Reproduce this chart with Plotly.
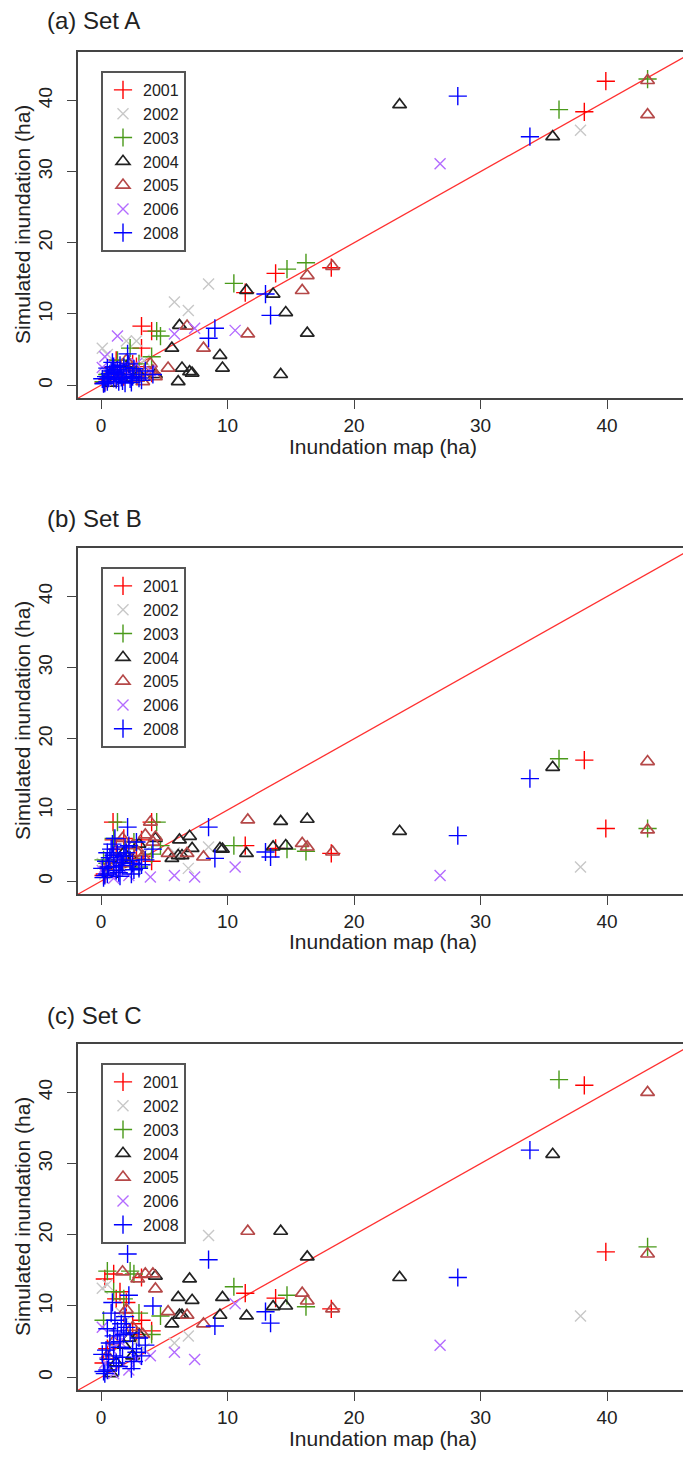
import plotly.graph_objects as go

W, H = 683, 1460

YEARS = ["2001", "2002", "2003", "2004", "2005", "2006", "2008"]
COLORS = ["#FF0000", "#C8C8C8", "#4A9A1A", "#222222", "#B54848", "#B36BFF", "#0000FF"]
SYMBOLS = ["cross-thin", "x-thin", "cross-thin", "triangle-up-open",
           "triangle-up-open", "x-thin", "cross-thin"]
PANEL_TITLES = ["(a) Set A", "(b) Set B", "(c) Set C"]
TICKS = [0, 10, 20, 30, 40]
ONE_TO_ONE = [-5, 50]

# ---- inundation map (x) per year, simulated (y) per set ----
x_2001 = [39.9, 38.2, 13.8, 11.4, 18.2, 3.2, 4.0, 3.2, 4.0, 0.95, 0.3, 1.5, 2.0, 2.5, 1.0, 0.5, 1.8, 2.8, 0.2, 1.2]
a_2001 = [42.7, 38.4, 15.7, 13.0, 16.5, 8.3, 7.6, 5.2, 1.7, 2.5, 0.5, 1.8, 2.2, 3.0, 1.0, 0.8, 1.2, 2.6, 0.3, 3.5]
b_2001 = [7.4, 17.0, 4.6, 5.0, 3.9, 5.8, 8.3, 3.5, 2.8, 8.3, 1.0, 3.0, 4.0, 2.5, 5.8, 2.0, 6.0, 3.2, 0.8, 4.5]
c_2001 = [17.6, 41.0, 11.1, 11.8, 9.6, 14.0, 20.5, 8.0, 6.5, 20.5, 13.8, 12.0, 10.5, 7.5, 14.5, 4.0, 9.0, 6.0, 2.0, 11.0]

x_2002 = [37.9, 8.5, 5.8, 6.9, 0.1, 2.0, 2.8, 0.5, 1.2, 0.3, 1.6, 3.4]
a_2002 = [35.8, 14.2, 11.7, 10.5, 5.2, 6.2, 6.2, 4.3, 3.0, 1.0, 2.0, 3.5]
b_2002 = [2.0, 4.8, 4.0, 1.8, 2.5, 3.0, 2.0, 1.5, 3.0, 1.0, 2.2, 4.0]
c_2002 = [8.6, 19.9, 4.8, 5.8, 12.5, 8.0, 5.0, 13.0, 6.0, 2.0, 9.0, 4.0]

x_2003 = [43.2, 36.2, 16.2, 14.7, 10.5, 4.4, 4.7, 2.3, 1.3, 0.5, 0.2, 1.8, 2.6, 4.0, 1.0, 3.0]
a_2003 = [43.0, 38.7, 17.2, 16.3, 14.3, 7.6, 6.9, 5.2, 3.5, 1.5, 0.5, 2.5, 1.5, 4.0, 2.0, 3.0]
b_2003 = [7.4, 17.2, 4.2, 4.5, 5.0, 8.3, 5.0, 3.0, 8.3, 2.5, 3.0, 4.0, 5.5, 3.8, 6.0, 2.0]
c_2003 = [18.3, 41.8, 9.9, 11.5, 12.7, 20.7, 8.6, 14.9, 20.5, 14.9, 8.0, 11.0, 14.5, 6.0, 12.0, 9.0]

x_2004 = [35.7, 23.6, 11.5, 13.6, 14.6, 16.3, 14.2, 9.4, 9.6, 7.2, 7.0, 6.1, 6.2, 5.6, 6.4, 3.0, 2.5, 1.8, 4.3, 1.2, 2.2, 0.8]
a_2004 = [34.9, 39.4, 13.3, 12.8, 10.2, 7.3, 1.5, 4.2, 2.4, 1.7, 1.9, 0.5, 8.4, 5.2, 2.4, 1.5, 1.0, 2.0, 1.5, 0.8, 3.0, 0.3]
b_2004 = [16.0, 7.0, 3.9, 4.8, 5.0, 8.7, 8.4, 4.6, 4.5, 4.6, 6.3, 3.6, 5.8, 3.2, 3.6, 5.2, 3.0, 4.0, 6.0, 2.0, 2.5, 1.0]
c_2004 = [31.3, 14.0, 8.6, 9.9, 10.0, 16.9, 20.5, 8.7, 11.2, 10.8, 13.8, 11.2, 8.7, 7.5, 8.7, 6.0, 3.0, 4.5, 14.2, 2.0, 5.5, 0.5]

x_2005 = [43.2, 43.2, 18.3, 16.3, 15.9, 11.6, 8.1, 6.8, 5.3, 4.1, 3.9, 2.5, 1.7, 2.9, 3.5, 1.0, 2.0, 0.5, 4.3, 3.3]
a_2005 = [42.8, 38.0, 16.7, 15.4, 13.3, 7.2, 5.2, 8.3, 2.4, 2.0, 3.0, 2.5, 1.5, 1.0, 1.8, 2.0, 3.5, 0.8, 1.2, 0.5]
b_2005 = [16.8, 7.2, 4.1, 4.8, 5.3, 8.6, 3.4, 3.9, 3.9, 5.5, 8.3, 5.0, 6.0, 4.0, 6.5, 3.0, 2.5, 2.0, 6.2, 3.5]
c_2005 = [40.0, 17.3, 9.6, 10.7, 11.8, 20.5, 7.5, 8.7, 9.2, 14.5, 20.5, 7.0, 14.8, 13.8, 14.5, 5.0, 9.5, 3.0, 12.4, 6.0]

x_2006 = [26.8, 10.6, 7.4, 5.8, 1.3, 3.9, 0.3, 0.8, 1.5, 2.2, 0.1, 2.8, 1.0]
a_2006 = [31.1, 7.7, 8.0, 7.2, 6.9, 2.0, 4.0, 1.0, 2.5, 1.5, 2.5, 3.0, 0.5]
b_2006 = [0.8, 2.0, 0.6, 0.8, 1.5, 0.6, 2.0, 1.0, 3.0, 0.8, 1.5, 2.5, 0.4]
c_2006 = [4.5, 10.3, 2.5, 3.5, 6.0, 3.0, 2.0, 4.0, 5.0, 1.0, 7.0, 2.5, 0.5]

x_2008 = [28.2, 33.9, 13.0, 13.4, 9.0, 8.5, 2.1, 0.5, 1.0, 1.5, 2.0, 2.5, 0.3, 0.8, 1.2, 1.8, 2.8, 0.6, 1.4, 2.2, 3.5, 0.2, 1.1, 1.7, 3.0, 4.1, 0.4, 1.3, 2.4, 0.9,
          0.7, 1.6, 2.6, 0.1, 1.9, 1.0, 2.3, 0.5, 1.5, 3.2]
a_2008 = [40.6, 34.9, 12.8, 9.8, 8.0, 6.6, 4.4, 0.5, 1.0, 1.5, 2.0, 1.2, 0.3, 2.0, 0.8, 2.5, 1.5, 1.0, 0.5, 3.0, 2.0, 0.2, 1.8, 0.6, 1.0, 1.5, 1.2, 2.2, 0.4, 3.2,
          1.6, 1.1, 2.3, 0.9, 0.3, 2.6, 0.9, 2.4, 2.8, 0.7]
b_2008 = [6.4, 14.4, 4.1, 3.4, 3.2, 7.6, 7.6, 1.0, 2.0, 3.0, 4.0, 2.5, 0.8, 4.5, 1.5, 3.5, 5.5, 2.0, 1.2, 5.0, 3.0, 0.5, 6.0, 2.2, 1.8, 4.5, 2.8, 3.8, 1.0, 5.2,
          3.3, 2.6, 1.6, 1.8, 4.8, 3.6, 2.9, 4.0, 0.7, 2.3]
c_2008 = [14.0, 31.9, 9.2, 7.6, 7.2, 16.5, 17.3, 1.0, 3.0, 5.0, 7.0, 4.0, 0.5, 9.0, 2.0, 6.0, 3.5, 2.5, 1.5, 11.5, 4.5, 0.8, 8.0, 2.8, 5.5, 10.0, 3.8, 6.5, 1.2, 10.5,
          4.8, 7.5, 2.2, 3.2, 8.5, 5.8, 6.2, 6.8, 4.2, 3.0]

X = [x_2001, x_2002, x_2003, x_2004, x_2005, x_2006, x_2008]
Y_SETS = [
    [a_2001, a_2002, a_2003, a_2004, a_2005, a_2006, a_2008],
    [b_2001, b_2002, b_2003, b_2004, b_2005, b_2006, b_2008],
    [c_2001, c_2002, c_2003, c_2004, c_2005, c_2006, c_2008],
]

# ---- layout geometry (pixels) ----
BOX_LEFT = 78
BOX_TOPS = [52, 548, 1044]
BOX_H = 346
TITLE_Y = [20, 518, 1015]
FONT = "Liberation Sans, Arial, sans-serif"
TXT = "#222222"


def px(xp):
    return xp / W


def py(yp):
    return 1 - yp / H


fig = go.Figure()
layout = dict(width=W, height=H, margin=dict(l=0, r=0, t=0, b=0),
              paper_bgcolor="white", plot_bgcolor="white",
              font=dict(family=FONT, color=TXT), annotations=[])

for p in range(3):
    sfx = "" if p == 0 else str(p + 1)
    xa, ya = "x" + sfx, "y" + sfx
    leg = "legend" + sfx
    top = BOX_TOPS[p]
    bot = top + BOX_H
    # 1:1 line
    fig.add_trace(go.Scatter(x=ONE_TO_ONE, y=ONE_TO_ONE, mode="lines",
                             line=dict(color="#FF3030", width=1.3),
                             xaxis=xa, yaxis=ya, showlegend=False, hoverinfo="skip"))
    for i, yr in enumerate(YEARS):
        sym = SYMBOLS[i]
        size = 13 if sym == "cross-thin" else (12 if sym.startswith("triangle") else 11)
        lw = 1.7 if sym.startswith("triangle") else 1.4
        fig.add_trace(go.Scatter(
            x=X[i], y=Y_SETS[p][i], mode="markers", name=yr,
            marker=dict(symbol=sym, size=size, color=COLORS[i],
                        line=dict(color=COLORS[i], width=lw)),
            xaxis=xa, yaxis=ya, legend=leg, showlegend=True, cliponaxis=True))

    axis_common = dict(showgrid=False, zeroline=False, showline=True,
                       linecolor="#444444", linewidth=1.6, ticks="outside",
                       ticklen=9, tickwidth=1.3, tickcolor="#444444",
                       tickvals=TICKS, tickfont=dict(size=19, family=FONT, color=TXT))
    layout["xaxis" + sfx] = dict(axis_common, domain=[px(BOX_LEFT), 1],
                                 range=[-1.82, 46.0], mirror=True,
                                 anchor=ya)
    layout["yaxis" + sfx] = dict(axis_common, domain=[py(bot), py(top)],
                                 range=[-1.8, 46.8], tickangle=-90,
                                 ticklabelstandoff=8, anchor=xa)
    layout[leg] = dict(x=px(101), y=py(top + 19), xanchor="left", yanchor="top",
                       bgcolor="white", bordercolor="#555555", borderwidth=2,
                       font=dict(size=16, family=FONT, color=TXT),
                       itemwidth=30, tracegroupgap=0)
    layout["annotations"] += [
        dict(text=PANEL_TITLES[p], x=px(45), y=py(TITLE_Y[p]), xref="paper", yref="paper",
             xanchor="left", yanchor="middle", showarrow=False,
             font=dict(size=24, family=FONT, color=TXT)),
        dict(text="Inundation map (ha)", x=px(383), y=py(bot + 48), xref="paper", yref="paper",
             xanchor="center", yanchor="middle", showarrow=False,
             font=dict(size=21, family=FONT, color=TXT)),
        dict(text="Simulated inundation (ha)", x=px(22), y=py(top + BOX_H / 2),
             xref="paper", yref="paper", xanchor="center", yanchor="middle",
             textangle=-90, showarrow=False,
             font=dict(size=21, family=FONT, color=TXT)),
    ]

fig.update_layout(**layout)
fig.write_html("out.html")
